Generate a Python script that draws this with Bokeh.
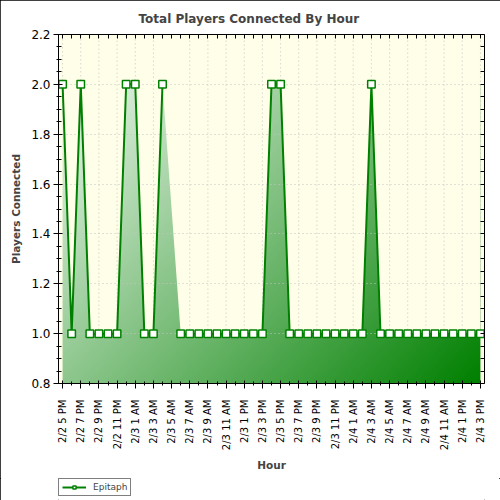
import math
import numpy as np
from bokeh.plotting import figure
from bokeh.layouts import column
from bokeh.models import (Range1d, LinearAxis, FixedTicker, SingleIntervalTicker,
                          NumeralTickFormatter, CustomJSTickFormatter, Legend, LegendItem)
from bokeh.embed import file_html
from bokeh.resources import INLINE

nan = float("nan")

# hours since 2/2 5 PM, one reading per hour (2/3 5 AM is missing)
hours = list(range(47))
players = [2, 1, 2, 1, 1, 1, 1, 2, 2, 1, 1, 2, nan,
           1, 1, 1, 1, 1, 1, 1, 1, 1, 1,
           2, 2,
           1, 1, 1, 1, 1, 1, 1, 1, 1,
           2,
           1, 1, 1, 1, 1, 1, 1, 1, 1, 1, 1, 1]
tick_labels = ["2/2 5 PM", "2/2 7 PM", "2/2 9 PM", "2/2 11 PM",
               "2/3 1 AM", "2/3 3 AM", "2/3 5 AM", "2/3 7 AM", "2/3 9 AM", "2/3 11 AM",
               "2/3 1 PM", "2/3 3 PM", "2/3 5 PM", "2/3 7 PM", "2/3 9 PM", "2/3 11 PM",
               "2/4 1 AM", "2/4 3 AM", "2/4 5 AM", "2/4 7 AM", "2/4 9 AM", "2/4 11 AM",
               "2/4 1 PM", "2/4 3 PM"]
label_hours = hours[::2]
series_name = "Epitaph"

y_start, y_end = 0.8, 2.2
bg = "#fffee8"
green = "#008000"
grid_col = "#c4c4c4"
font = "DejaVu Sans"

p = figure(width=500, height=478, output_backend="svg", toolbar_location=None,
           x_range=Range1d(hours[0] - 0.45, hours[-1] + 0.45),
           y_range=Range1d(y_start, y_end),
           title="Total Players Connected By Hour",
           x_axis_label="Hour", y_axis_label="Players Connected",
           min_border_left=58, min_border_right=16, min_border_top=33,
           min_border_bottom=95)
p.background_fill_color = bg
p.border_fill_color = "white"
p.outline_line_color = None

p.title.text_font = font
p.title.text_font_size = "12px"
p.title.align = "left"
p.title.offset = 80
p.title.standoff = 18

# green gradient under the curve: image, then background above the curve
nx, ny = 200, 120
u = np.linspace(0, 1, nx)[None, :]
v = np.linspace(0, 1, ny)[:, None]
t = (0.6 * u + 0.4 * (1 - v))[..., None]
light = np.array([236, 246, 236])
dark = np.array([0, 128, 0])
rgb = light * (1 - t) + dark * t
img = np.zeros((ny, nx), dtype=np.uint32)
view = img.view(dtype=np.uint8).reshape((ny, nx, 4))
view[..., :3] = rgb.astype(np.uint8)
view[..., 3] = 255
top_val = np.nanmax(players)
p.image_rgba(image=[img], x=hours[0], y=y_start, dw=hours[-1] - hours[0],
             dh=top_val - y_start, level="image")

kx = [h for h, c in zip(hours, players) if not math.isnan(c)]
ky = [c for c in players if not math.isnan(c)]
p.varea(x=kx, y1=ky, y2=y_end, fill_color=bg, level="image")

# vertical grid only above the area
p.xgrid.visible = False
p.segment(x0=label_hours, y0=players[::2], x1=label_hours, y1=y_end,
          line_color=grid_col, line_dash="1 3", line_width=1)
p.ygrid.grid_line_color = grid_col
p.ygrid.grid_line_dash = "1 3"

line_style = dict(line_color=green, line_width=2)
dot_style = dict(marker="square", size=7.5, fill_color="white",
                 line_color=green, line_width=1.5)
p.line(hours, players, **line_style)
p.scatter(hours, players, **dot_style)

xa = p.xaxis[0]
xa.ticker = FixedTicker(ticks=label_hours, minor_ticks=hours)
xa.major_label_overrides = dict(zip(label_hours, tick_labels))
xa.major_label_orientation = math.pi / 2
xa.major_tick_in = 3
xa.major_tick_out = 5
xa.minor_tick_in = 2
xa.minor_tick_out = 2
xa.major_label_standoff = 11
xa.axis_label_standoff = 6
xa.major_label_text_font_size = "10px"

ya = p.yaxis[0]
ya.ticker = SingleIntervalTicker(interval=0.2, num_minor_ticks=4)
ya.formatter = NumeralTickFormatter(format="0.0")
ya.major_tick_in = 4
ya.major_tick_out = 5
ya.minor_tick_in = 3
ya.minor_tick_out = 2
ya.major_label_standoff = 3
ya.axis_label_standoff = 6
ya.major_label_text_font_size = "12px"

for ax in (xa, ya):
    ax.major_label_text_font = font
    ax.major_label_text_color = "black"
    ax.axis_label_text_font = font
    ax.axis_label_text_font_size = "10.5px"
    ax.axis_label_text_font_style = "bold"
    ax.axis_line_color = "black"
    ax.major_tick_line_color = "black"
    ax.minor_tick_line_color = "black"

blank = CustomJSTickFormatter(code="return ''")
top_ax = LinearAxis(ticker=FixedTicker(ticks=hours), formatter=blank,
                    major_tick_in=4, major_tick_out=0, minor_tick_in=0, minor_tick_out=0,
                    major_label_standoff=0, axis_line_color="black")
p.add_layout(top_ax, "above")
right_ax = LinearAxis(ticker=SingleIntervalTicker(interval=0.05, num_minor_ticks=0),
                      formatter=blank,
                      major_tick_in=4, major_tick_out=0, minor_tick_in=0, minor_tick_out=0,
                      major_label_standoff=0, axis_line_color="black")
p.add_layout(right_ax, "right")

# legend strip under the chart (its series sit outside the strip's view)
leg = figure(width=500, height=22, output_backend="svg", toolbar_location=None,
             x_axis_type=None, y_axis_type=None,
             y_range=Range1d(y_end + 1, y_end + 2),
             min_border_left=58, min_border_right=0, min_border_top=0,
             min_border_bottom=0)
leg.outline_line_color = None
leg.background_fill_color = "white"
leg.border_fill_color = "white"
leg_line = leg.line(hours, players, **line_style)
leg_dots = leg.scatter(hours, players, **dot_style)

legend = Legend(items=[LegendItem(label=series_name, renderers=[leg_line, leg_dots])],
                location="top_left", orientation="horizontal", margin=0, padding=3,
                glyph_width=24, glyph_height=8, label_height=8, label_standoff=7,
                label_text_font=font, label_text_font_size="9px",
                border_line_color="black", border_line_width=1,
                background_fill_color="white")
leg.add_layout(legend)

page = column(p, leg, spacing=0)
page.styles = {"outline": "1px solid black", "outline-offset": "-1px"}

open("out.html", "w").write(file_html(page, INLINE))
